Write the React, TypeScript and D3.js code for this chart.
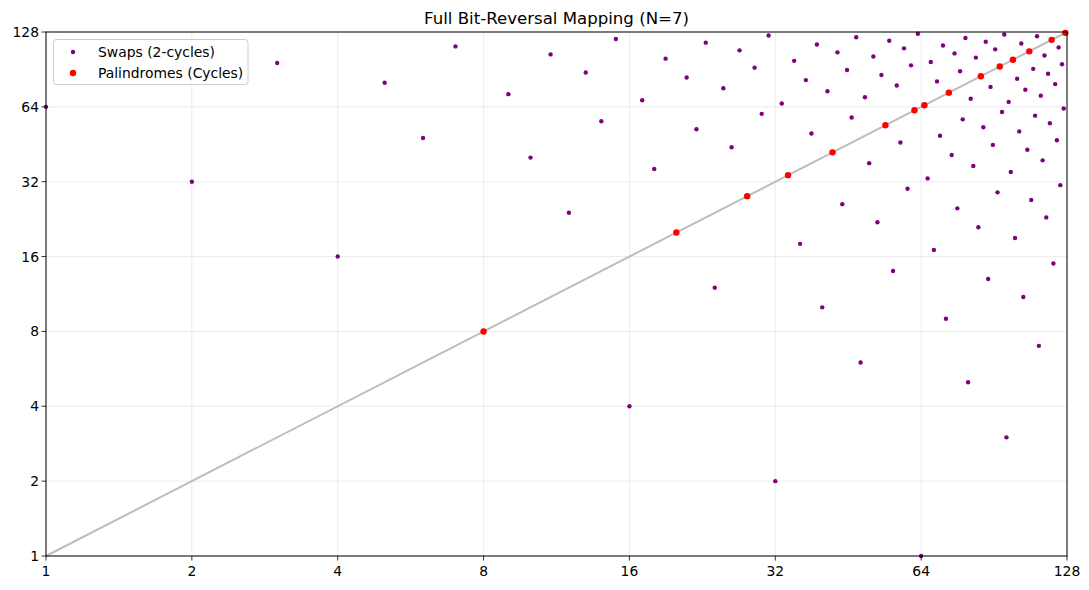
import React from "react";
import * as d3 from "d3";

const swapIndex = [1,2,3,4,5,6,7,9,10,11,12,13,14,15,16,17,18,19,21,22,23,24,25,26,27,29,30,31,32,33,35,36,37,38,39,40,41,43,44,45,46,47,48,49,50,51,52,53,55,56,57,58,59,60,61,63,64,66,67,68,69,70,71,72,74,75,76,77,78,79,80,81,82,83,84,86,87,88,89,90,91,92,94,95,96,97,98,100,101,102,103,104,105,106,108,109,110,111,112,113,114,115,116,117,118,120,121,122,123,124,125,126];
const swapReversed = [64,32,96,16,80,48,112,72,40,104,24,88,56,120,4,68,36,100,84,52,116,12,76,44,108,92,60,124,2,66,98,18,82,50,114,10,74,106,26,90,58,122,6,70,38,102,22,86,118,14,78,46,110,30,94,126,1,33,97,17,81,49,113,9,41,105,25,89,57,121,5,69,37,101,21,53,117,13,77,45,109,29,61,125,3,67,35,19,83,51,115,11,75,43,27,91,59,123,7,71,39,103,23,87,55,15,79,47,111,31,95,63];
const palindromes = [8,20,28,34,42,54,62,65,73,85,93,99,107,119,127];
const tickValues = [1,2,4,8,16,32,64,128];

const W = 1089, H = 590;
const L = 46, R = 1067, T = 32, B = 556;
const FONT = "DejaVu Sans, sans-serif";

export default function App() {
  const x = d3.scaleLog().base(2).domain([1, 128]).range([L, R]);
  const y = d3.scaleLog().base(2).domain([1, 128]).range([B, T]);
  const diag = d3.line<number>().x(d => x(d)).y(d => y(d))([1, 128]) || "";
  return (
    <svg width={W} height={H} style={{ position: "absolute", left: 0, top: 0 }} fontFamily={FONT}>
      <rect x={0} y={0} width={W} height={H} fill="#fff" />
      {tickValues.map(t => (
        <g key={"g" + t}>
          <line x1={x(t)} x2={x(t)} y1={T} y2={B} stroke="#b0b0b0" strokeOpacity={0.3} strokeWidth={0.8} />
          <line x1={L} x2={R} y1={y(t)} y2={y(t)} stroke="#b0b0b0" strokeOpacity={0.3} strokeWidth={0.8} />
        </g>
      ))}
      <path d={diag} stroke="#bdbdbd" strokeWidth={2} fill="none" />
      {swapIndex.map((v, i) => (
        <circle key={"s" + i} cx={x(v)} cy={y(swapReversed[i])} r={2.2} fill="#800080" />
      ))}
      {palindromes.map((v, i) => (
        <circle key={"p" + i} cx={x(v)} cy={y(v)} r={3.2} fill="#ff0000" />
      ))}
      <rect x={L} y={T} width={R - L} height={B - T} fill="none" stroke="#000" strokeWidth={1} />
      {tickValues.map(t => (
        <g key={"t" + t} fontSize={13.9} fill="#000">
          <line x1={x(t)} x2={x(t)} y1={B} y2={B + 4.5} stroke="#000" strokeWidth={0.8} />
          <text x={x(t)} y={B + 19.5} textAnchor="middle">{t}</text>
          <line x1={L - 4.5} x2={L} y1={y(t)} y2={y(t)} stroke="#000" strokeWidth={0.8} />
          <text x={L - 7} y={y(t) + 5} textAnchor="end">{t}</text>
        </g>
      ))}
      <text x={(L + R) / 2} y={24} textAnchor="middle" fontSize={16.6}>Full Bit-Reversal Mapping (N=7)</text>
      <g>
        <rect x={53.5} y={39.5} width={194.5} height={45} rx={3} fill="#fff" fillOpacity={0.8} stroke="#cccccc" />
        <circle cx={73} cy={52} r={2.2} fill="#800080" />
        <text x={98} y={56.8} fontSize={13.9}>Swaps (2-cycles)</text>
        <circle cx={73} cy={73} r={3.2} fill="#ff0000" />
        <text x={98} y={77.8} fontSize={13.9}>Palindromes (Cycles)</text>
      </g>
    </svg>
  );
}
